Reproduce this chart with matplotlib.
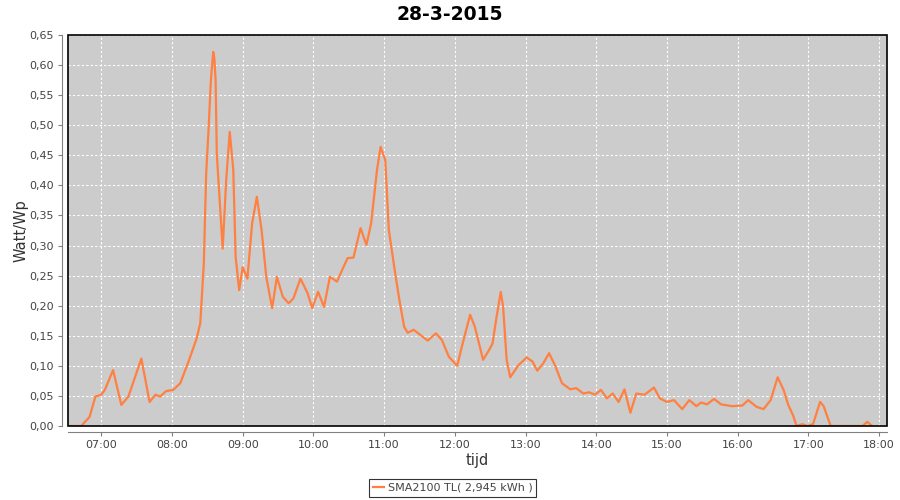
import matplotlib
matplotlib.use("Agg")
import matplotlib.pyplot as plt
from matplotlib.patches import Rectangle
from matplotlib.ticker import FuncFormatter, MultipleLocator

# Data (time of day, Watt/Wp)
times = ["06:33", "06:43", "06:50", "06:55", "07:00", "07:03", "07:10", "07:17", "07:23", "07:34",
         "07:41", "07:46", "07:50", "07:55", "08:01", "08:07", "08:14", "08:21", "08:24", "08:25",
         "08:27", "08:28", "08:29", "08:31", "08:33", "08:35", "08:36", "08:37", "08:38", "08:43",
         "08:46", "08:49", "08:52", "08:54", "08:57",
         "09:00", "09:04", "09:08", "09:12", "09:16", "09:20", "09:25", "09:29", "09:34", "09:39",
         "09:43", "09:49", "09:55", "09:59", "10:04", "10:09", "10:14", "10:20", "10:25", "10:29",
         "10:34", "10:40", "10:45", "10:49", "10:54", "10:57", "11:01", "11:04", "11:09", "11:13",
         "11:17", "11:20", "11:25", "11:31", "11:37", "11:44", "11:49", "11:55", "12:02", "12:06",
         "12:13", "12:17", "12:24", "12:29", "12:32", "12:35", "12:39", "12:41", "12:44", "12:47",
         "12:54", "13:01", "13:06", "13:10", "13:15", "13:20", "13:25", "13:31", "13:38", "13:43",
         "13:49", "13:54", "13:59", "14:04", "14:09", "14:14", "14:19", "14:24", "14:29", "14:34",
         "14:41", "14:49", "14:54", "15:00", "15:06", "15:13", "15:19", "15:25", "15:29", "15:34",
         "15:40", "15:46", "15:55", "16:04", "16:09", "16:16", "16:22", "16:28", "16:34", "16:39",
         "16:43", "16:47", "16:50", "16:55", "16:59", "17:04", "17:10", "17:13", "17:19", "17:46",
         "17:50", "17:54"]
watt_wp = [0.000, 0.000, 0.015, 0.049, 0.052, 0.060, 0.093, 0.035, 0.049, 0.112,
           0.040, 0.052, 0.049, 0.058, 0.060, 0.071, 0.107, 0.146, 0.171, 0.204,
           0.270, 0.342, 0.420, 0.492, 0.575, 0.622, 0.610, 0.575, 0.453, 0.295,
           0.409, 0.489, 0.426, 0.281, 0.226,
           0.264, 0.245, 0.337, 0.381, 0.326, 0.248, 0.196, 0.248, 0.215, 0.204,
           0.212, 0.245, 0.221, 0.196, 0.223, 0.198, 0.248, 0.240, 0.262, 0.279,
           0.280, 0.329, 0.301, 0.337, 0.426, 0.464, 0.442, 0.326, 0.259, 0.209,
           0.165, 0.155, 0.160, 0.151, 0.142, 0.154, 0.143, 0.115, 0.100, 0.132,
           0.185, 0.165, 0.110, 0.126, 0.137, 0.176, 0.223, 0.198, 0.110, 0.081,
           0.101, 0.114, 0.107, 0.092, 0.104, 0.121, 0.101, 0.071, 0.061, 0.063,
           0.054, 0.056, 0.052, 0.060, 0.046, 0.054, 0.040, 0.061, 0.022, 0.054,
           0.052, 0.064, 0.046, 0.040, 0.043, 0.028, 0.043, 0.033, 0.039, 0.036,
           0.045, 0.036, 0.033, 0.034, 0.043, 0.032, 0.028, 0.043, 0.081, 0.060,
           0.035, 0.018, 0.000, 0.003, 0.000, 0.003, 0.040, 0.033, 0.000, 0.000,
           0.007, 0.000]

title = "28-3-2015"
series_label = "SMA2100 TL( 2,945 kWh )"
hour_ticks = list(range(7, 19))


def to_hours(s):
    h, m = s.split(":")
    return int(h) + int(m) / 60.0


x = [to_hours(t) for t in times]

fig = plt.figure(figsize=(9, 5), dpi=100)
fig.patch.set_facecolor("white")
ax = fig.add_axes([68 / 900, 74 / 500, 819 / 900, 391 / 500])
ax.set_facecolor("#CCCCCC")

line, = ax.plot(x, watt_wp, color="#FF8040", linewidth=1.6, label=series_label)

ax.set_xlim(6.529, 18.113)
ax.set_ylim(0, 0.65)
ax.yaxis.set_major_locator(MultipleLocator(0.05))
ax.yaxis.set_major_formatter(FuncFormatter(lambda v, p: f"{v:.2f}".replace(".", ",")))
ax.set_xticks(hour_ticks)
ax.set_xticklabels([f"{h:02d}:00" for h in hour_ticks])

ax.grid(True, color="white", linestyle=(0, (2, 2)), linewidth=0.8)
ax.set_axisbelow(True)

# JFreeChart-like axes: gray axis lines offset from the plot border
for side in ["left", "bottom"]:
    ax.spines[side].set_position(("outward", 4))
    ax.spines[side].set_color("#808080")
for side in ["top", "right"]:
    ax.spines[side].set_visible(False)
ax.add_patch(Rectangle((0, 0), 1, 1, transform=ax.transAxes, fill=False,
                       edgecolor="black", linewidth=1.2, clip_on=False, zorder=5))

ax.tick_params(axis="both", direction="out", length=3, width=0.8, color="#808080",
               labelsize=8, labelcolor="#444444", pad=3)

ax.set_xlabel("tijd", fontsize=10.5, color="#333333", labelpad=2)
ax.set_ylabel("Watt/Wp", fontsize=10.5, color="#333333", labelpad=1)

fig.text(0.5, 1 - 14 / 500, title, ha="center", va="center",
         fontsize=13.5, fontweight="bold")

leg = fig.legend(handles=[line], loc="center", bbox_to_anchor=(0.503, 1 - 488 / 500),
                 fontsize=8, frameon=True, fancybox=False, handlelength=1.0,
                 handletextpad=0.3, borderpad=0.35, borderaxespad=0)
leg.get_frame().set_edgecolor("black")
leg.get_frame().set_linewidth(0.8)
for t in leg.get_texts():
    t.set_color("#444444")

fig.savefig("out.png", dpi=100)
